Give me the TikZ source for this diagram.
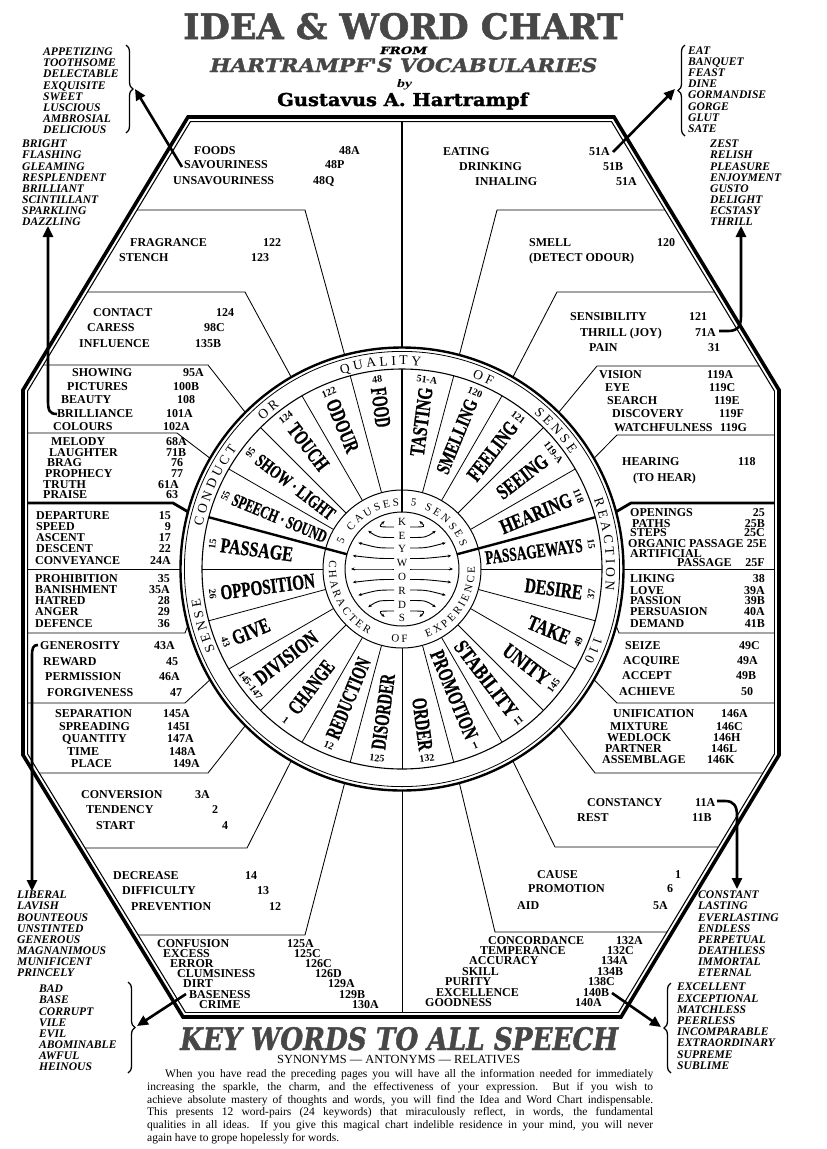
\documentclass[tikz,border=0pt]{standalone}
\usepackage{fontspec}
\setmainfont{Liberation Serif}
\newfontfamily\HeavyFont{DejaVu Serif}[FakeBold=1.5]
\newfontfamily\LabFont{Liberation Serif}[FakeBold=0.8]
\usetikzlibrary{calc,decorations.text,decorations.pathreplacing,arrows.meta}
\newcommand\RingFont{\fontsize{13.5}{13.5}\selectfont}
\newcommand\InnerFont{\fontsize{11}{11}\selectfont}
\newcommand\ParaFont{\fontsize{11.5}{12.8}\selectfont}
\newcommand\WheelLab[3]{\resizebox{#1pt}{#2pt}{\LabFont\bfseries #3}}
\newcommand\FramePoly{(188,-117) -- (614,-117) -- (779,-390) -- (779,-755) -- (621,-1017) -- (183,-1017) -- (23,-755) -- (23,-390) -- cycle}
\begin{document}
\begin{tikzpicture}[x=1pt,y=1pt,
  bt/.style={font=\fontsize{12}{12}\selectfont\bfseries, inner sep=0pt, text height=8.2pt, text depth=0pt, anchor=west},
  sw/.style={font=\fontsize{11.6}{11.6}\selectfont\bfseries\itshape, inner sep=0pt, text height=7.7pt, text depth=0pt, anchor=west},
  thinl/.style={line width=0.85pt},
  thickl/.style={line width=2.8pt},
  spoke/.style={line width=0.8pt},
  bigarrow/.style={line width=2.6pt, -{Triangle[width=10pt,length=11pt]}},
  bracel/.style={line width=1.3pt, decorate, decoration={brace, amplitude=7pt}},
  wheelnum/.style={font=\fontsize{10}{10}\selectfont\bfseries, inner sep=0pt},
  inarrow/.style={line width=0.9pt, -{Stealth[length=3.5pt,width=3pt]}},
  titletext/.style={anchor=base west, inner sep=0pt, text=black!72}
]
\useasboundingbox (0,0) rectangle (827,-1149);
\fill[white] (0,0) rectangle (827,-1149);
\coordinate (C) at (402,-569);

% ---------- box lines (left) ----------
\draw[thinl] ($(C)+(105:222)$) -- (305,-210) -- (131.8,-210);
\draw[thinl] ($(C)+(120:222)$) -- (245,-292) -- (82.2,-292);
\draw[thinl] ($(C)+(135:222)$) -- (208,-365) -- (38.1,-365);
\draw[thinl] ($(C)+(150:222)$) -- (177,-433) -- (23,-433);
\draw[thinl] ($(C)+(180:222)$) -- (23,-569);
\draw[thinl] ($(C)+(195:222)$) -- (185,-633) -- (23,-633);
\draw[thinl] ($(C)+(210:222)$) -- (185,-703) -- (23,-703);
\draw[thinl] ($(C)+(225:222)$) -- (208,-773) -- (34,-773);
\draw[thinl] ($(C)+(240:222)$) -- (247,-848) -- (79.8,-848);
\draw[thinl] ($(C)+(255:222)$) -- (305,-935) -- (132.9,-935);
\draw[thinl] ($(C)+(270:222)$) -- (402,-1017);
% ---------- box lines (right) ----------
\draw[thinl] ($(C)+(75:222)$) -- (497,-210) -- (670.2,-210);
\draw[thinl] ($(C)+(60:222)$) -- (557,-292) -- (719.8,-292);
\draw[thinl] ($(C)+(45:222)$) -- (597,-366) -- (764.5,-366);
\draw[thinl] ($(C)+(30:222)$) -- (617,-435) -- (779,-435);
\draw[thinl] ($(C)+(0:222)$) -- (779,-569);
\draw[thinl] ($(C)+(-15:222)$) -- (619,-633) -- (779,-633);
\draw[thinl] ($(C)+(-30:222)$) -- (617,-703) -- (779,-703);
\draw[thinl] ($(C)+(-45:222)$) -- (595,-773) -- (768.1,-773);
\draw[thinl] ($(C)+(-60:222)$) -- (555,-847) -- (723.5,-847);
\draw[thinl] ($(C)+(-75:222)$) -- (495,-932) -- (671.3,-932);
% ---------- thick dividers ----------
\draw[thickl] (402,-117) -- ($(C)+(90:222)$);
\draw[thickl] ($(C)+(165:222)$) -- (173,-503) -- (23,-503);
\draw[thickl] ($(C)+(15:222)$) -- (631,-503) -- (779,-503);

% ---------- wheel ----------
\draw[line width=2.4pt] (C) circle[radius=221.5];
\draw[line width=0.8pt] (C) circle[radius=217.6];
\draw[line width=1.1pt] (C) circle[radius=200];
\draw[line width=1pt] (C) circle[radius=79];
\draw[line width=1pt] (C) circle[radius=57];
\foreach \a in {0,15,...,345} \draw[spoke] ($(C)+(\a:79)$) -- ($(C)+(\a:200)$);
\foreach \a in {15,90,165} \draw[line width=2.4pt] ($(C)+(\a:57)$) -- ($(C)+(\a:200)$);

% ---------- frame ----------
\begin{scope}
\clip \FramePoly;
\draw[line width=10pt] \FramePoly;
\draw[white, line width=7.6pt] \FramePoly;
\end{scope}
\draw[line width=3.6pt] \FramePoly;

% ---------- wheel labels ----------
\foreach \ang/\rin/\rout/\lh/\txt [count=\i] in {
 82.5/114/183/14/TASTING, 67.5/104/183/13/SMELLING, 52.5/114/183/14/FEELING,
 37.5/122/181/14/SEEING, 22.5/107/183/14/HEARING, 7.5/84/182/13/PASSAGEWAYS,
 -7.5/124/182/14/DESIRE, -22.5/137/181/14/TAKE, -37.5/130/183/14/UNITY,
 -52.5/93/183/14/STABILITY, -67.5/89/183/14/PROMOTION, -82.5/130/183/14/ORDER,
 97.5/143/183/15/FOOD, 112.5/127/183/14/ODOUR, 127.5/127/181/14/TOUCH,
 142.5/87/182/12.5/SHOW · LIGHT, 157.5/82/183/12/SPEECH · SOUND, 172.5/110/183/14/PASSAGE,
 187.5/88/183/14/OPPOSITION, 202.5/144/183/14/GIVE, 217.5/109/183/14/DIVISION,
 232.5/118/180/14/CHANGE, 247.5/97/183/14/REDUCTION, 262.5/106/182/14/DISORDER}
{
 \pgfmathsetmacro\rmid{(\rin+\rout)/2}
 \pgfmathsetmacro\llen{\rout-\rin}
 \pgfmathsetmacro\lrot{\ang>90 ? \ang-180 : \ang}
 \node[rotate=\lrot, inner sep=0pt] (wl\i) at ($(C)+(\ang:\rmid)$) {\WheelLab{\llen}{\lh}{\txt}};
}
\foreach \ang/\num [count=\i] in {
 82.5/51-A, 67.5/120, 52.5/121, 37.5/119-A, 22.5/118, 7.5/15, -7.5/37, -22.5/49,
 -37.5/145, -52.5/11, -67.5/1, -82.5/132, 97.5/48, 112.5/122, 127.5/124, 142.5/95,
 157.5/55, 172.5/15, 187.5/26, 202.5/43, 217.5/145-147, 232.5/1, 247.5/12, 262.5/125}
{
 \pgfmathsetmacro\nrot{(\ang>0 && \ang<180) ? \ang-90 : \ang+90}
 \node[wheelnum, rotate=\nrot] (wn\i) at ($(C)+(\ang:191)$) {\num};
}

% ---------- ring text ----------
\path[decorate, decoration={text along path, text align=center, text={|\RingFont|S E N S E}}] ([shift={(C)}]231:204) arc[start angle=231, end angle=161, radius=204];
\path[decorate, decoration={text along path, text align=center, text={|\RingFont|C O N D U C T}}] ([shift={(C)}]191:204) arc[start angle=191, end angle=121, radius=204];
\path[decorate, decoration={text along path, text align=center, text={|\RingFont|O R}}] ([shift={(C)}]150:204) arc[start angle=150, end angle=110, radius=204];
\path[decorate, decoration={text along path, text align=center, text={|\RingFont|Q U A L I T Y}}] ([shift={(C)}]131:204) arc[start angle=131, end angle=61, radius=204];
\path[decorate, decoration={text along path, text align=center, text={|\RingFont|O F}}] ([shift={(C)}]87:204) arc[start angle=87, end angle=47, radius=204];
\path[decorate, decoration={text along path, text align=center, text={|\RingFont|S E N S E}}] ([shift={(C)}]77:204) arc[start angle=77, end angle=7, radius=204];
\path[decorate, decoration={text along path, text align=center, text={|\RingFont|R E A C T I O N}}] ([shift={(C)}]47:204) arc[start angle=47, end angle=-33, radius=204];
\path[decorate, decoration={text along path, text align=center, text={|\RingFont|1 1 0}}] ([shift={(C)}]7:204) arc[start angle=7, end angle=-53, radius=204];

% inner ring
\path[decorate, decoration={text along path, text align=center, text={|\InnerFont|C A U S E S}}] ([shift={(C)}]150:63) arc[start angle=150, end angle=86, radius=63];
\path[decorate, decoration={text along path, text align=center, text={|\InnerFont|S E N S E S}}] ([shift={(C)}]77:63) arc[start angle=77, end angle=13, radius=63];
\node[inner sep=0pt, font=\InnerFont, rotate=65] (five1) at ($(C)+(155:67.5)$) {5};
\node[inner sep=0pt, font=\InnerFont, rotate=-10] (five2) at ($(C)+(80:67.5)$) {5};
\path[decorate, decoration={text along path, text align=center, text={|\InnerFont|C H A R A C T E R}}] ([shift={(C)}]160:73) arc[start angle=160, end angle=256, radius=73];
\path[decorate, decoration={text along path, text align=center, text={|\InnerFont|O F}}] ([shift={(C)}]250:73) arc[start angle=250, end angle=286, radius=73];
\path[decorate, decoration={text along path, text align=center, text={|\InnerFont|E X P E R I E N C E}}] ([shift={(C)}]280:73) arc[start angle=280, end angle=372, radius=73];

% keywords column and arrows
\foreach \L [count=\i from 0] in {K,E,Y,W,O,R,D,S}
  \node[inner sep=0pt, font=\InnerFont] (kw\i) at (402,-521.7-13.8*\i) {\L};
\foreach \k in {-4,-3,...,4} {
  \pgfmathsetmacro\sy{10.5*\k}
  \pgfmathsetmacro\ea{asin(\sy/52)*1.3}
  \pgfmathsetmacro\eb{180-\ea}
  \draw[inarrow] ($(C)+(-8,\sy)$) .. controls ($(C)+(-24,\sy)$) .. ($(C)+(\eb:51)$);
  \draw[inarrow] ($(C)+(8,\sy)$) .. controls ($(C)+(24,\sy)$) .. ($(C)+(\ea:51)$);
}

% ---------- box texts ----------
\foreach \x/\y/\t/\nx/\n [count=\i] in {
194/150/FOODS/339/48A, 184/164/SAVOURINESS/325/48P, 173/180/UNSAVOURINESS/313/48Q,
443/151/EATING/589/51A, 459/166/DRINKING/603/51B, 475/181/INHALING/616/51A,
130/242/FRAGRANCE/263/122, 119/257/STENCH/251/123, 529/242/SMELL/657/120,
93/312/CONTACT/216/124, 87/327/CARESS/204/98C, 79/343/INFLUENCE/195/135B,
570/316/SENSIBILITY/689/121, 580/332/THRILL (JOY)/695/71A, 589/347/PAIN/708/31,
72/372/SHOWING/183/95A, 67/386/PICTURES/173/100B, 61/399/BEAUTY/177/108,
57/413/BRILLIANCE/166/101A, 53/426/COLOURS/163/102A,
51/441/MELODY/166/68A, 49/452/LAUGHTER/166/71B, 47/462/BRAG/171/76,
45/473/PROPHECY/171/77, 43/484/TRUTH/158/61A, 43/494/PRAISE/166/63,
599/374/VISION/707/119A, 605/387/EYE/709/119C, 607/400/SEARCH/714/119E,
612/413/DISCOVERY/719/119F, 614/427/WATCHFULNESS/720/119G, 622/461/HEARING/738/118,
40/645/GENEROSITY/154/43A, 43/661/REWARD/166/45, 45/676/PERMISSION/159/46A, 47/692/FORGIVENESS/170/47,
55/713/SEPARATION/163/145A, 59/726/SPREADING/167/145I, 62/738/QUANTITY/167/147A,
67/751/TIME/169/148A, 71/763/PLACE/173/149A,
625/645/SEIZE/739/49C, 623/660/ACQUIRE/737/49A, 622/675/ACCEPT/736/49B, 619/691/ACHIEVE/741/50,
613/713/UNIFICATION/721/146A, 610/726/MIXTURE/716/146C, 607/737/WEDLOCK/713/146H,
605/748/PARTNER/711/146L, 602/759/ASSEMBLAGE/707/146K,
81/794/CONVERSION/195/3A, 86/809/TENDENCY/212/2, 96/825/START/222/4,
113/875/DECREASE/245/14, 122/890/DIFFICULTY/257/13, 131/906/PREVENTION/269/12,
157/943/CONFUSION/287/125A, 163/953/EXCESS/294/125C, 170/963/ERROR/305/126C,
177/973/CLUMSINESS/315/126D, 183/983/DIRT/328/129A, 189/994/BASENESS/339/129B, 199/1004/CRIME/352/130A,
587/802/CONSTANCY/695/11A, 577/817/REST/692/11B,
537/874/CAUSE/675/1, 528/888/PROMOTION/667/6, 517/905/AID/653/5A,
488/940/CONCORDANCE/616/132A, 480/950/TEMPERANCE/607/132C, 469/960/ACCURACY/601/134A,
462/971/SKILL/597/134B, 445/981/PURITY/588/138C, 436/992/EXCELLENCE/583/140B, 425/1002/GOODNESS/575/140A}
{ \node[bt] (wa\i) at (\x,-\y) {\t}; \node[bt] (na\i) at (\nx,-\y) {\n}; }

\foreach \x/\y/\t/\nx/\n [count=\i] in {
36/515/DEPARTURE/171/15, 36/526/SPEED/171/9, 36/537/ASCENT/171/17, 36/548/DESCENT/171/22, 35/560/CONVEYANCE/171/24A,
35/578/PROHIBITION/170/35, 35/589/BANISHMENT/170/35A, 35/600/HATRED/170/28, 35/611/ANGER/170/29, 35/623/DEFENCE/170/36,
630/512/OPENINGS/765/25, 632/523/PATHS/765/25B, 630/532/STEPS/765/25C, 628/543/ORGANIC PASSAGE/767/25E,
630/578/LIKING/765/38, 630/590/LOVE/765/39A, 630/600/PASSION/765/39B, 630/611/PERSUASION/765/40A, 630/623/DEMAND/765/41B}
{ \node[bt] (wb\i) at (\x,-\y) {\t}; \node[bt, anchor=east] (nb\i) at (\nx,-\y) {\n}; }
\node[bt] (detect) at (529,-257) {(DETECT ODOUR)};
\node[bt] (tohear) at (633,-477) {(TO HEAR)};
\node[bt] (artif) at (630,-553) {ARTIFICIAL};
\node[bt] (passg) at (677,-562) {PASSAGE};
\node[bt, anchor=east] (n25f) at (765,-562) {25F};

% ---------- side word lists ----------
\foreach \w [count=\i from 0] in {APPETIZING,TOOTHSOME,DELECTABLE,EXQUISITE,SWEET,LUSCIOUS,AMBROSIAL,DELICIOUS}
  \node[sw] (sa\i) at (43,-52-11.05*\i) {\w};
\foreach \w [count=\i from 0] in {BRIGHT,FLASHING,GLEAMING,RESPLENDENT,BRILLIANT,SCINTILLANT,SPARKLING,DAZZLING}
  \node[sw] (sb\i) at (22,-144-11.1*\i) {\w};
\foreach \w [count=\i from 0] in {EAT,BANQUET,FEAST,DINE,GORMANDISE,GORGE,GLUT,SATE}
  \node[sw] (sc\i) at (688,-50.7-11.1*\i) {\w};
\foreach \w [count=\i from 0] in {ZEST,RELISH,PLEASURE,ENJOYMENT,GUSTO,DELIGHT,ECSTASY,THRILL}
  \node[sw] (sd\i) at (710,-144-11.1*\i) {\w};
\foreach \w [count=\i from 0] in {LIBERAL,LAVISH,BOUNTEOUS,UNSTINTED,GENEROUS,MAGNANIMOUS,MUNIFICENT,PRINCELY}
  \node[sw] (se\i) at (17,-895-11.1*\i) {\w};
\foreach \w [count=\i from 0] in {BAD,BASE,CORRUPT,VILE,EVIL,ABOMINABLE,AWFUL,HEINOUS}
  \node[sw] (sf\i) at (39,-989-11.1*\i) {\w};
\foreach \w [count=\i from 0] in {CONSTANT,LASTING,EVERLASTING,ENDLESS,PERPETUAL,DEATHLESS,IMMORTAL,ETERNAL}
  \node[sw] (sg\i) at (698,-895-11.1*\i) {\w};
\foreach \w [count=\i from 0] in {EXCELLENT,EXCEPTIONAL,MATCHLESS,PEERLESS,INCOMPARABLE,EXTRAORDINARY,SUPREME,SUBLIME}
  \node[sw] (sh\i) at (677,-987-11.2*\i) {\w};

% braces
\draw[bracel] (126,-45) -- (126,-133);
\draw[bracel] (685,-136) -- (685,-45);
\draw[bracel] (128,-982) -- (128,-1073);
\draw[bracel] (671,-1073) -- (671,-983);

% arrows
\coordinate (a1s) at (182,-167); \coordinate (a1e) at (135,-89);
\draw[bigarrow] (a1s) -- (a1e);
\coordinate (a2s) at (57,-414); \coordinate (a2e) at (48,-226);
\draw[bigarrow] (a2s) .. controls (49,-414) and (48,-410) .. (48,-400) -- (a2e);
\coordinate (a3s) at (613,-152); \coordinate (a3e) at (675,-89);
\draw[bigarrow] (a3s) -- (a3e);
\coordinate (a4s) at (719,-331); \coordinate (a4e) at (741,-226);
\draw[bigarrow] (a4s) -- (728,-331) .. controls (738,-331) and (741,-326) .. (741,-316) -- (a4e);
\coordinate (a5s) at (38,-645); \coordinate (a5e) at (32,-891);
\draw[bigarrow] (a5s) .. controls (33,-645) and (32,-648) .. (32,-656) -- (a5e);
\coordinate (a6s) at (186,-994); \coordinate (a6e) at (137,-1026);
\draw[bigarrow] (a6s) -- (a6e);
\coordinate (a7s) at (717,-801); \coordinate (a7e) at (737,-889);
\draw[bigarrow] (a7s) -- (725,-801) .. controls (734,-801) and (737,-806) .. (737,-816) -- (a7e);
\coordinate (a8s) at (612,-993); \coordinate (a8e) at (661,-1027);
\draw[bigarrow] (a8s) -- (a8e);

% ---------- titles ----------
\node[titletext] (t1) at (183,-39) {\resizebox{440pt}{26pt}{\HeavyFont\bfseries IDEA \& WORD CHART}};
\node[titletext, text=black] (t2) at (380,-54) {\resizebox{47pt}{7.5pt}{\HeavyFont\bfseries\itshape FROM}};
\node[titletext] (t3) at (210,-72) {\resizebox{387pt}{14pt}{\HeavyFont\bfseries\itshape HARTRAMPF'S VOCABULARIES}};
\node[titletext, text=black] (t4) at (397,-87) {\resizebox{15pt}{8pt}{\bfseries\itshape by}};
\node[titletext, text=black] (t5) at (277,-106) {\resizebox{251pt}{13.5pt}{\HeavyFont\bfseries Gustavus A. Hartrampf}};
\node[titletext] (t6) at (180,-1050) {\resizebox{438pt}{23pt}{\HeavyFont\bfseries\itshape KEY WORDS TO ALL SPEECH}};
\node[titletext, text=black] (t7) at (277,-1063) {\resizebox{243pt}{!}{\fontsize{12}{12}\selectfont SYNONYMS --- ANTONYMS --- RELATIVES}};

% ---------- paragraph ----------
\node[anchor=base west, inner sep=0pt, font=\ParaFont] (p1) at (165,-1077) {\makebox[488pt][s]{When you have read the preceding pages you will have all the information needed for immediately}};
\node[anchor=base west, inner sep=0pt, font=\ParaFont] (p2) at (147,-1090) {\makebox[506pt][s]{increasing the sparkle, the charm, and the effectiveness of your expression.\ \ But if you wish to}};
\node[anchor=base west, inner sep=0pt, font=\ParaFont] (p3) at (147,-1103) {\makebox[506pt][s]{achieve absolute mastery of thoughts and words, you will find the Idea and Word Chart indispensable.}};
\node[anchor=base west, inner sep=0pt, font=\ParaFont] (p4) at (147,-1115) {\makebox[506pt][s]{This presents 12 word-pairs (24 keywords) that miraculously reflect, in words, the fundamental}};
\node[anchor=base west, inner sep=0pt, font=\ParaFont] (p5) at (147,-1128) {\makebox[506pt][s]{qualities in all ideas.\ \ If you give this magical chart indelible residence in your mind, you will never}};
\node[anchor=base west, inner sep=0pt, font=\ParaFont] (p6) at (147,-1141) {again have to grope hopelessly for words.};
\end{tikzpicture}
\end{document}
